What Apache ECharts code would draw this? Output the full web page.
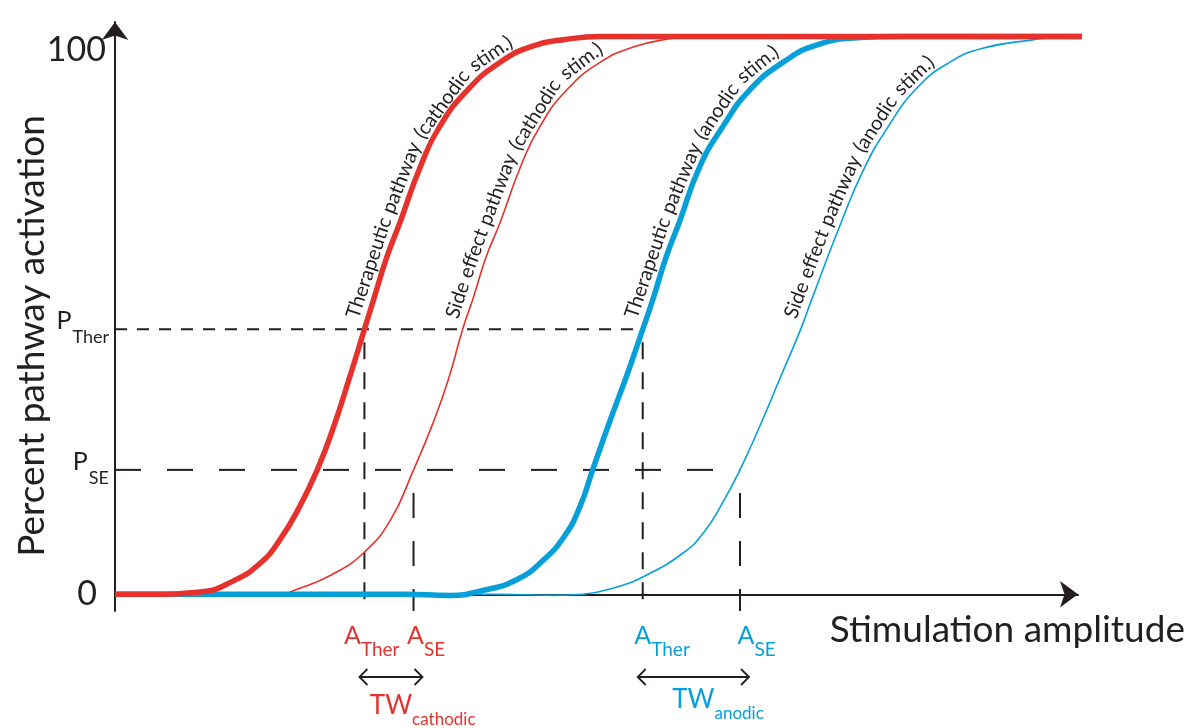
<!DOCTYPE html>
<html>
<head>
<meta charset="utf-8">
<script src="https://cdn.jsdelivr.net/npm/echarts@6/dist/echarts.min.js"></script>
<style>
  html, body { margin: 0; padding: 0; background: #ffffff; }
  #chart { width: 1188px; height: 728px; }
</style>
</head>
<body>
<div id="chart"></div>
<script>
// Activation thresholds (percent) and the amplitudes where each curve reaches them
const P_THER = 47.5;
const P_SE = 22.3;
const A_THER_CATH = 25.9;
const A_SE_CATH = 31.0;
const A_THER_AN = 54.8;
const A_SE_AN = 64.9;

// [stimulation amplitude, percent pathway activation]
const therCathodic = [[0, 0], [3.6, 0], [8.8, 0.4], [12.3, 2.4], [15.1, 5.6], [17.1, 9.7], [19.2, 15.8],
  [21.0, 22.3], [22.6, 29.5], [24.4, 39.1], [25.9, 47.5], [26.9, 53.1], [28.2, 60.3], [29.6, 66.7],
  [31.7, 76.6], [33.7, 83.8], [36.6, 90.4], [40.0, 95.4], [43.4, 98.3], [46.9, 99.5], [50.4, 100], [104.4, 100]];
const seCathodic = [[0, 0], [12.0, 0], [16.4, -0.2], [19.2, 1.1], [22.6, 3.6], [25.8, 7.4], [28.6, 13.3],
  [31.0, 22.3], [33.0, 30.6], [34.6, 38.4], [36.1, 47.5], [37.2, 53.1], [38.5, 60.3], [40.0, 66.7],
  [42.1, 76.6], [44.1, 83.8], [46.9, 90.4], [50.4, 95.4], [53.8, 98.1], [57.3, 99.5], [60.7, 100], [104.4, 100]];
const therAnodic = [[0, 0], [30.0, 0], [34.8, -0.2], [38.2, 0.7], [41.7, 2.6], [44.4, 6.0], [46.7, 10.5],
  [48.3, 15.8], [49.6, 22.3], [51.4, 31.1], [53.2, 39.5], [54.8, 47.5], [55.9, 53.1], [57.2, 60.3],
  [58.6, 66.7], [60.7, 76.6], [63.1, 83.8], [65.9, 90.4], [69.4, 95.4], [72.9, 98.5], [77.4, 99.8], [81.5, 100], [104.4, 100]];
const seAnodic = [[0, 0], [40.0, 0], [45.7, -0.2], [48.6, 0], [52.1, 1.3], [54.8, 3.1], [59.0, 7.4],
  [61.1, 11.0], [63.0, 16.1], [64.9, 22.3], [67.0, 30.3], [69.1, 38.9], [71.2, 47.5], [72.4, 53.1],
  [75.3, 66.2], [77.7, 76.0], [80.2, 83.6], [83.3, 90.8], [86.7, 95.4], [90.1, 97.9], [95.3, 99.4], [96.8, 99.7], [104.4, 100]];

// Tick labels
const yTicks = [0, P_SE, P_THER, 100];
const yTickMain = ['0', 'P', 'P', '100'];
const yTickSub = ['', 'SE', 'Ther', ''];
const xTicks = [A_THER_CATH, A_SE_CATH, A_THER_AN, A_SE_AN];
const xTickMain = ['A', 'A', 'A', 'A'];
const xTickSub = ['Ther', 'SE', 'Ther', 'SE'];

// Therapeutic windows
const windowStart = [A_THER_CATH, A_THER_AN];
const windowEnd = [A_SE_CATH, A_SE_AN];
const windowMain = ['TW', 'TW'];
const windowSub = ['cathodic', 'anodic'];

const curveNames = [
  'Therapeutic pathway (cathodic stim.)',
  'Side effect pathway (cathodic stim.)',
  'Therapeutic pathway (anodic stim.)',
  'Side effect pathway (anodic stim.)'
];

const RED = '#e5322c';
const BLUE = '#059fda';
const INK = '#231f20';
const FONT = 'Lato';

const chart = echarts.init(document.getElementById('chart'));

// index of the tick value closest to v
function tickIndex(list, v) {
  let best = 0;
  list.forEach((t, i) => { if (Math.abs(t - v) < Math.abs(list[best] - v)) best = i; });
  return best;
}

function curve(data, color, width) {
  return {
    type: 'line', data: data, smooth: 0.5, symbol: 'none', clip: false, silent: true,
    lineStyle: { color: color, width: width }
  };
}
function dashed(data, dash, offset) {
  return {
    type: 'line', data: data, symbol: 'none', clip: false, silent: true,
    lineStyle: { color: INK, width: 2, type: dash, dashOffset: offset || 0 }
  };
}

chart.setOption({
  animation: false,
  backgroundColor: '#ffffff',
  grid: { left: 115, right: 110, top: 22, bottom: 117, containLabel: false, outerBoundsMode: 'none' },
  xAxis: {
    type: 'value', min: 0, max: 100,
    name: 'Stimulation amplitude', nameLocation: 'end', nameGap: 107, nameMoveOverlap: false,
    nameTextStyle: {
      fontFamily: FONT, fontSize: 37, lineHeight: 37, color: INK,
      align: 'right', verticalAlign: 'top', padding: [17, 0, 0, 0]
    },
    axisLine: { show: true, symbol: ['none', 'arrow'], symbolSize: [20, 18], lineStyle: { color: INK, width: 2 } },
    axisTick: { show: false },
    splitLine: { show: false },
    axisLabel: { show: false }
  },
  yAxis: {
    type: 'value', min: -3, max: 102.6,
    name: 'Percent pathway activation', nameLocation: 'middle', nameRotate: 90, nameGap: 64, nameMoveOverlap: false,
    nameTextStyle: { fontFamily: FONT, fontSize: 37, color: INK, padding: [0, 39, 0, 0] },
    axisLine: { show: true, symbol: ['none', 'arrow'], symbolSize: [20, 18], lineStyle: { color: INK, width: 2 } },
    axisTick: { show: false },
    splitLine: { show: false },
    axisLabel: {
      customValues: yTicks, margin: 6, hideOverlap: false,
      formatter: function (v) {
        const i = tickIndex(yTicks, v);
        if (yTickSub[i]) return '{p|' + yTickMain[i] + '}{ps|' + yTickSub[i] + '}';
        return (i === 0 ? '{zero|' : '{big|') + yTickMain[i] + '}';
      },
      rich: {
        big: { fontFamily: FONT, fontSize: 34, lineHeight: 34, color: INK, padding: [28, 3, 0, 0] },
        zero: { fontFamily: FONT, fontSize: 34, lineHeight: 34, color: INK, padding: [0, 12, 0, 0] },
        p: { fontFamily: FONT, fontSize: 25, lineHeight: 26, color: INK, padding: [0, 0, 16, 0] },
        ps: { fontFamily: FONT, fontSize: 18, lineHeight: 18, color: INK, verticalAlign: 'top', padding: [12, 0, 0, 1] }
      }
    }
  },
  series: [
    dashed([[0, P_THER], [A_THER_AN, P_THER]], [12, 10]),
    dashed([[0, P_SE], [A_SE_AN, P_SE]], [26, 26]),
    dashed([[A_THER_CATH, P_THER], [A_THER_CATH, -3]], [17, 13], 17),
    dashed([[A_SE_CATH, P_SE], [A_SE_CATH, -3]], [25, 23], 25),
    dashed([[A_THER_AN, P_THER], [A_THER_AN, -3]], [17, 13], 17),
    dashed([[A_SE_AN, P_SE], [A_SE_AN, -3]], [25, 23], 25),
    curve(seCathodic, RED, 1.6),
    curve(seAnodic, BLUE, 1.6),
    curve(therAnodic, BLUE, 5.5),
    curve(therCathodic, RED, 5.5)
  ]
});

// ---- annotations placed through the grid's coordinate system ----
const toPx = (p) => chart.convertToPixel({ gridIndex: 0 }, p);
const measure = document.createElement('canvas').getContext('2d');
const graphics = [];
const axisY = toPx([0, -3])[1];

// Amplitude tick labels: the large "A" sits over its tick, nudged where labels crowd
const xLabelNudge = [-12, 2, 0, 6];
measure.font = '25px ' + FONT;
const aWidth = measure.measureText('A').width;
xTicks.forEach((v, i) => {
  const color = i < 2 ? RED : BLUE;
  graphics.push({
    type: 'text', z: 100, x: toPx([v, 0])[0] - aWidth / 2 + xLabelNudge[i], y: axisY + 12,
    style: {
      text: '{a|' + xTickMain[i] + '}{s|' + xTickSub[i] + '}',
      align: 'left', verticalAlign: 'top',
      rich: {
        a: { fontFamily: FONT, fontSize: 25, lineHeight: 25, fill: color, verticalAlign: 'top' },
        s: { fontFamily: FONT, fontSize: 19, lineHeight: 19, fill: color, verticalAlign: 'top', padding: [17, 0, 0, 0] }
      }
    }
  });
});

// Curve names written word by word along an offset copy of each curve
function labelAlongCurve(text, data, gap, startValue, size) {
  const pts = data.map(toPx);
  const off = pts.map((p, i) => {
    const a = pts[Math.max(0, i - 1)], b = pts[Math.min(pts.length - 1, i + 1)];
    const dx = b[0] - a[0], dy = b[1] - a[1];
    const L = Math.hypot(dx, dy) || 1;
    return [p[0] + dy / L * gap, p[1] - dx / L * gap];
  });
  const cum = [0];
  for (let i = 1; i < off.length; i++) cum.push(cum[i - 1] + Math.hypot(off[i][0] - off[i - 1][0], off[i][1] - off[i - 1][1]));
  const pointAt = (s) => {
    for (let i = 1; i < off.length; i++) {
      if (cum[i] >= s) {
        const t = (s - cum[i - 1]) / ((cum[i] - cum[i - 1]) || 1);
        return [off[i - 1][0] + t * (off[i][0] - off[i - 1][0]), off[i - 1][1] + t * (off[i][1] - off[i - 1][1])];
      }
    }
    return off[off.length - 1];
  };
  const yStart = toPx([0, startValue])[1];
  let s = 0;
  for (let i = 1; i < off.length; i++) {
    if (off[i - 1][1] >= yStart && off[i][1] < yStart) {
      const t = (off[i - 1][1] - yStart) / (off[i - 1][1] - off[i][1]);
      s = cum[i - 1] + t * (cum[i] - cum[i - 1]);
      break;
    }
  }
  measure.font = size + 'px ' + FONT;
  const space = measure.measureText(' ').width;
  text.split(' ').forEach((word) => {
    const w = measure.measureText(word).width;
    const p0 = pointAt(s), p1 = pointAt(s + w);
    graphics.push({
      type: 'text', x: p0[0], y: p0[1], z: 100,
      rotation: Math.atan2(p0[1] - p1[1], p1[0] - p0[0]),
      style: { text: word, fontFamily: FONT, fontSize: size, fill: INK, align: 'left', verticalAlign: 'bottom' }
    });
    s += w + space;
  });
}
labelAlongCurve(curveNames[0], therCathodic, 5, 49, 20);
labelAlongCurve(curveNames[1], seCathodic, 4, 49, 20);
labelAlongCurve(curveNames[2], therAnodic, 5, 49, 20);
labelAlongCurve(curveNames[3], seAnodic, 4, 49, 20);

// Therapeutic window arrows and labels
windowStart.forEach((a0, i) => {
  const x0 = toPx([a0, 0])[0] - 5;
  const x1 = toPx([windowEnd[i], 0])[0] + 9;
  const y = axisY + 66;
  const color = i === 0 ? RED : BLUE;
  graphics.push({ type: 'polyline', z: 100, shape: { points: [[x0, y], [x1, y]] }, style: { stroke: INK, lineWidth: 1.8, fill: null } });
  graphics.push({ type: 'polyline', z: 100, shape: { points: [[x0 + 8, y - 8], [x0, y], [x0 + 8, y + 8]] }, style: { stroke: INK, lineWidth: 1.8, fill: null } });
  graphics.push({ type: 'polyline', z: 100, shape: { points: [[x1 - 8, y - 8], [x1, y], [x1 - 8, y + 8]] }, style: { stroke: INK, lineWidth: 1.8, fill: null } });
  graphics.push({
    type: 'text', z: 100, x: (x0 + x1) / 2, y: i === 0 ? axisY + 82 : axisY + 76,
    style: {
      text: '{h|' + windowSub[i] + '}{m|' + windowMain[i] + '}{s|' + windowSub[i] + '}',
      align: 'center', verticalAlign: 'top',
      rich: {
        h: { fontFamily: FONT, fontSize: 17, lineHeight: 17, fill: 'rgba(0,0,0,0)', verticalAlign: 'top', padding: [18, 0, 0, 0] },
        m: { fontFamily: FONT, fontSize: 26, lineHeight: 26, fill: color, verticalAlign: 'top' },
        s: { fontFamily: FONT, fontSize: 17, lineHeight: 17, fill: color, verticalAlign: 'top', padding: [18, 0, 0, 0] }
      }
    }
  });
});

chart.setOption({ graphic: graphics });
</script>
</body>
</html>
